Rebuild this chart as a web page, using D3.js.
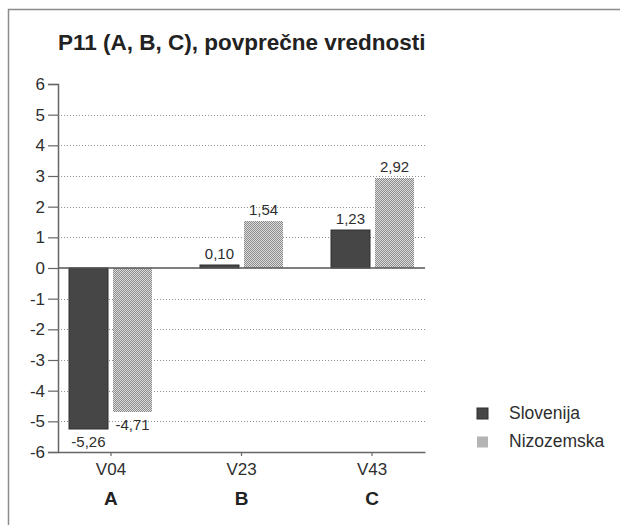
<!DOCTYPE html>
<html>
<head>
<meta charset="utf-8">
<script src="https://cdn.jsdelivr.net/npm/d3@7"></script>
<style>
  body { margin: 0; background: #fff; }
  svg { display: block; font-family: "Liberation Sans", Arial, sans-serif; }
</style>
</head>
<body>
<svg id="chart" width="620" height="525"></svg>
<script>
// data
var categories = ["V04", "V23", "V43"];
var groups = ["A", "B", "C"];
var series = ["Slovenija", "Nizozemska"];
var slovenija = [-5.26, 0.10, 1.23];
var nizozemska = [-4.71, 1.54, 2.92];
var yTicks = [-6, -5, -4, -3, -2, -1, 0, 1, 2, 3, 4, 5, 6];

var svg = d3.select("#chart");
var width = 620, height = 525;

// pattern for the Nizozemska bars
var defs = svg.append("defs");
var pat = defs.append("pattern")
  .attr("id", "checker")
  .attr("width", 2)
  .attr("height", 2)
  .attr("patternUnits", "userSpaceOnUse");
pat.append("rect").attr("width", 2).attr("height", 2).attr("fill", "#dcdcdc");
pat.append("rect").attr("width", 1).attr("height", 1).attr("fill", "#8c8c8c");
pat.append("rect").attr("x", 1).attr("y", 1).attr("width", 1).attr("height", 1).attr("fill", "#8c8c8c");

// frame (top and left only)
svg.append("path")
  .attr("d", "M8.5," + height + "V9.5H" + width)
  .attr("fill", "none")
  .attr("stroke", "#8c8c8c")
  .attr("stroke-width", 1.5);

svg.append("text")
  .attr("x", 58)
  .attr("y", 50)
  .attr("font-size", 22.5)
  .attr("font-weight", "bold")
  .attr("fill", "#222")
  .text("P11 (A, B, C), povpre\u010dne vrednosti");

var left = 58, right = 425;

var y = d3.scaleLinear().domain([-6, 6]).range([452, 84]);

var x0 = d3.scaleBand()
  .domain(categories)
  .range([left, right])
  .paddingInner(0.364)
  .paddingOuter(0.088);

var x1 = d3.scaleBand()
  .domain(series)
  .range([0, x0.bandwidth()])
  .paddingInner(0.12);

var colors = { "Slovenija": "#464646", "Nizozemska": "url(#checker)" };

var rows = categories.map(function(c, i) {
  return { cat: c, values: [
    { key: "Slovenija", value: slovenija[i] },
    { key: "Nizozemska", value: nizozemska[i] }
  ] };
});

// dotted grid
svg.append("g")
  .selectAll("line")
  .data(yTicks.filter(function(d) { return d !== 0 && Math.abs(d) !== 6; }))
  .enter().append("line")
  .attr("x1", left)
  .attr("x2", right)
  .attr("y1", function(d) { return Math.round(y(d)) + 0.5; })
  .attr("y2", function(d) { return Math.round(y(d)) + 0.5; })
  .attr("stroke", "#8f8f8f")
  .attr("stroke-dasharray", "1,2");

// bars
var fmt = function(v) { return d3.format(".2f")(v).replace("\u2212", "-").replace(".", ","); };

var grp = svg.append("g")
  .selectAll("g")
  .data(rows)
  .enter().append("g")
  .attr("transform", function(d) { return "translate(" + Math.round(x0(d.cat)) + ",0)"; });

grp.selectAll("rect")
  .data(function(d) { return d.values; })
  .enter().append("rect")
  .attr("x", function(d) { return Math.round(x1(d.key)); })
  .attr("width", Math.round(x1.bandwidth()))
  .attr("y", function(d) { return Math.round(y(Math.max(0, d.value))); })
  .attr("height", function(d) { return Math.round(Math.abs(y(d.value) - y(0))); })
  .attr("fill", function(d) { return colors[d.key]; })
  .attr("stroke", function(d) { return d.key === "Slovenija" ? "#2e2e2e" : "none"; })
  .attr("stroke-width", 1);

grp.selectAll("text")
  .data(function(d) { return d.values; })
  .enter().append("text")
  .attr("x", function(d) { return x1(d.key) + x1.bandwidth() / 2; })
  .attr("y", function(d) { return d.value >= 0 ? y(d.value) - 6 : y(d.value) + 18; })
  .attr("text-anchor", "middle")
  .attr("font-size", 15)
  .attr("fill", "#2e2e2e")
  .text(function(d) { return fmt(d.value); });

// zero line
svg.append("line")
  .attr("x1", left)
  .attr("x2", right)
  .attr("y1", y(0))
  .attr("y2", y(0))
  .attr("stroke", "#555")
  .attr("stroke-width", 1.5);

// y axis
var yAxis = svg.append("g")
  .attr("transform", "translate(" + left + ",0)")
  .call(d3.axisLeft(y).tickValues(yTicks).tickSize(10).tickPadding(3)
    .tickFormat(function(d) { return String(d); }));
yAxis.select(".domain").attr("stroke", "#666").attr("stroke-width", 1.5);
yAxis.selectAll(".tick line").attr("stroke", "#666").attr("stroke-width", 1.2);
yAxis.selectAll(".tick text")
  .attr("font-size", 17)
  .attr("font-family", "Liberation Sans, Arial, sans-serif")
  .attr("fill", "#2e2e2e");

// x axis at the bottom
var xAxis = svg.append("g")
  .attr("transform", "translate(0," + y(-6) + ")")
  .call(d3.axisBottom(x0).tickSize(4).tickPadding(7).tickSizeOuter(0));
xAxis.select(".domain").attr("stroke", "#666").attr("stroke-width", 1.5);
xAxis.selectAll(".tick line").attr("stroke", "#666").attr("stroke-width", 1.2);
xAxis.selectAll(".tick text")
  .attr("font-size", 17)
  .attr("font-family", "Liberation Sans, Arial, sans-serif")
  .attr("fill", "#2e2e2e");

// group letters
svg.append("g")
  .selectAll("text")
  .data(categories)
  .enter().append("text")
  .attr("x", function(d) { return x0(d) + x0.bandwidth() / 2; })
  .attr("y", 505)
  .attr("text-anchor", "middle")
  .attr("font-size", 19)
  .attr("font-weight", "bold")
  .attr("fill", "#222")
  .text(function(d, i) { return groups[i]; });

// legend
var legend = svg.append("g")
  .selectAll("g")
  .data(series)
  .enter().append("g")
  .attr("transform", function(d, i) { return "translate(477," + (408 + i * 28.5) + ")"; });

legend.append("rect")
  .attr("width", 11)
  .attr("height", 11)
  .attr("fill", function(d) { return colors[d]; })
  .attr("stroke", function(d) { return d === "Slovenija" ? "#2e2e2e" : "none"; });

legend.append("text")
  .attr("x", 32)
  .attr("y", 10.5)
  .attr("font-size", 17.5)
  .attr("fill", "#2e2e2e")
  .text(function(d) { return d; });
</script>
</body>
</html>
